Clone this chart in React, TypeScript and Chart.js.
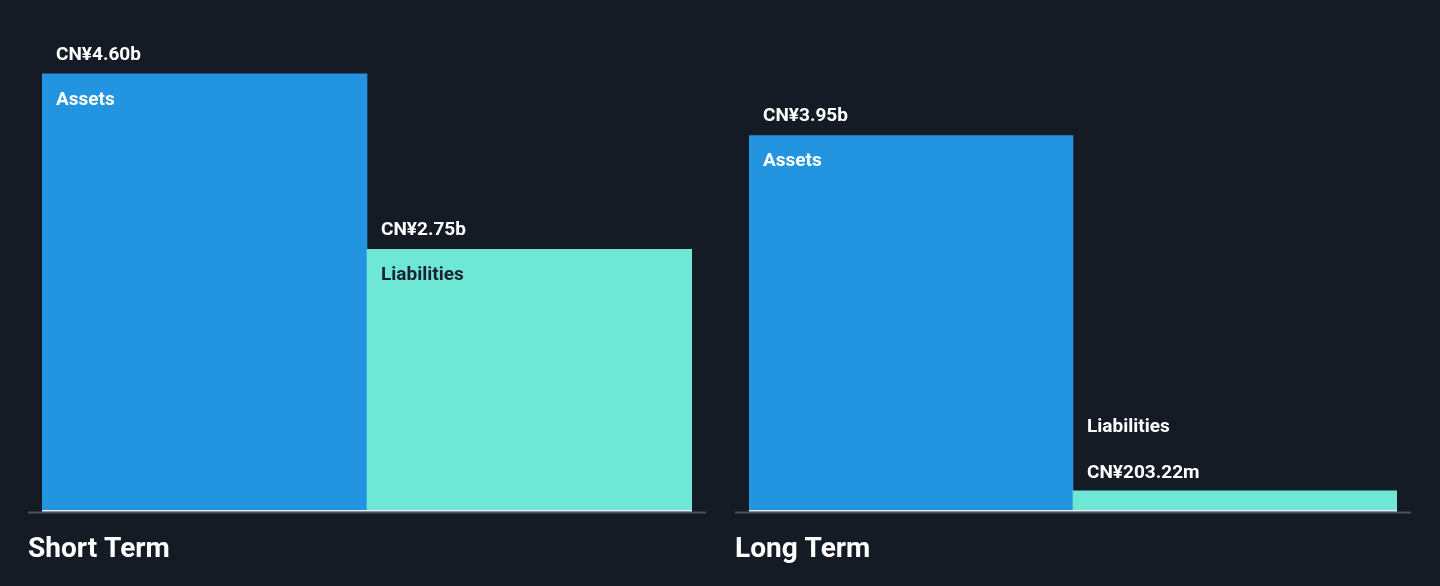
import React, { useEffect, useRef } from "react";
import { Chart, registerables } from "chart.js";

Chart.register(...registerables);

const groups = ["Short Term", "Long Term"];
const categories = ["Assets", "Liabilities"];
const assetValues = [4.6, 3.95]; // CN¥ billions
const liabilityValues = [2.75, 0.20322]; // CN¥ billions
const valueLabels = [
  ["CN¥4.60b", "CN¥2.75b"],
  ["CN¥3.95b", "CN¥203.22m"],
];

const BG = "#151b24";
const ASSET_COLOR = "#2394df";
const LIAB_COLOR = "#6ee7d6";
const Y_MAX = 5;

function Panel({ index, left, width }: { index: number; left: number; width: number }) {
  const ref = useRef<HTMLCanvasElement | null>(null);
  useEffect(() => {
    if (!ref.current) return;
    const labelsForPanel = valueLabels[index];
    const title = groups[index];
    const plugin = {
      id: "decor",
      afterDatasetsDraw(chart: any) {
        const ctx = chart.ctx as CanvasRenderingContext2D;
        const meta = chart.getDatasetMeta(0);
        const area = chart.chartArea;
        ctx.save();
        // grey baseline
        ctx.fillStyle = "#4b5361";
        ctx.fillRect(0, area.bottom + 1.5, chart.width, 2);
        // white line beneath bars
        ctx.fillStyle = "#e8eef5";
        ctx.fillRect(area.left, area.bottom, area.right - area.left, 1.5);
        ctx.font = "bold 19px Roboto";
        ctx.textBaseline = "middle";
        ctx.textAlign = "left";
        meta.data.forEach((bar: any, i: number) => {
          const x0 = bar.x - bar.width / 2 + 14;
          const top = bar.y;
          const h = bar.base - bar.y;
          const name = categories[i];
          const val = labelsForPanel[i];
          if (h > 60) {
            ctx.fillStyle = "#ffffff";
            ctx.fillText(val, x0, top - 19);
            ctx.fillStyle = i === 0 ? "#ffffff" : "#1a2230";
            ctx.fillText(name, x0, top + 26);
          } else {
            ctx.fillStyle = "#ffffff";
            ctx.fillText(val, x0, top - 17);
            ctx.fillText(name, x0, top - 63);
          }
        });
        ctx.font = "bold 28px Roboto";
        ctx.fillStyle = "#ffffff";
        ctx.fillText(title, 0, area.bottom + 40);
        ctx.restore();
      },
    };
    const chart = new Chart(ref.current, {
      type: "bar",
      data: {
        labels: categories,
        datasets: [
          {
            data: [assetValues[index], liabilityValues[index]],
            backgroundColor: [ASSET_COLOR, LIAB_COLOR],
            borderWidth: 0,
            barPercentage: 1,
            categoryPercentage: 1,
          },
        ],
      },
      options: {
        responsive: false,
        animation: false,
        devicePixelRatio: 1,
        layout: { padding: { top: 36, bottom: 76, left: 14, right: 14 } },
        plugins: { legend: { display: false }, tooltip: { enabled: false } },
        scales: {
          x: { display: false },
          y: { display: false, min: 0, max: Y_MAX },
        },
      },
      plugins: [plugin],
    });
    return () => chart.destroy();
  }, [index]);
  return (
    <canvas
      ref={ref}
      width={width}
      height={586}
      style={{ position: "absolute", left, top: 0, width, height: 586 }}
    />
  );
}

export default function App() {
  return (
    <div
      style={{
        position: "fixed",
        left: 0,
        top: 0,
        width: 1440,
        height: 586,
        background: BG,
        overflow: "hidden",
      }}
    >
      <Panel index={0} left={28} width={678} />
      <Panel index={1} left={735} width={676} />
    </div>
  );
}
